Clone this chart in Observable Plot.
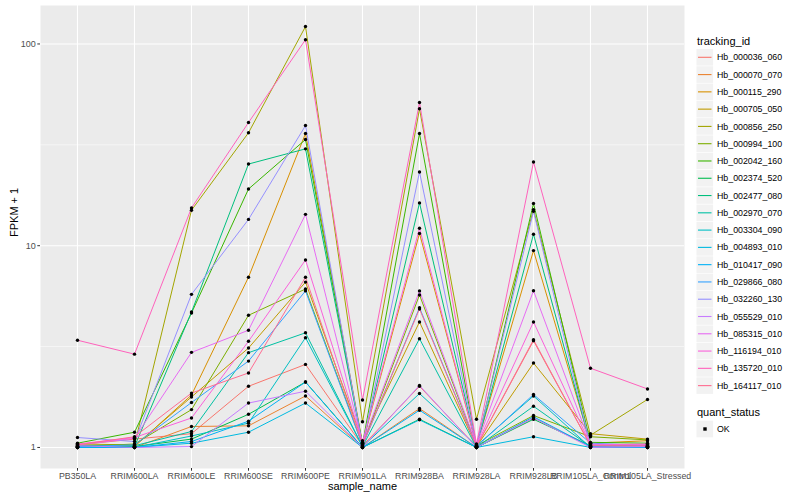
<!DOCTYPE html>
<html><head><meta charset="utf-8">
<script src="https://cdn.jsdelivr.net/npm/d3@7"></script>
<script src="https://cdn.jsdelivr.net/npm/@observablehq/plot@0.6"></script>
<style>
body{margin:0;background:#fff;font-family:"Liberation Sans",Arial,Helvetica,sans-serif;}
#wrap{position:relative;width:800px;height:500px;overflow:hidden;}
#legend{position:absolute;left:0;top:0;width:800px;height:500px;pointer-events:none;}
</style></head><body><div id="wrap"></div>
<script>
const samples = ["PB350LA","RRIM600LA","RRIM600LE","RRIM600SE","RRIM600PE","RRIM901LA","RRIM928BA","RRIM928LA","RRIM928LB","RRIM105LA_Control","RRIM105LA_Stressed"];
const trackingIds = ["Hb_000036_060","Hb_000070_070","Hb_000115_290","Hb_000705_050","Hb_000856_250","Hb_000994_100","Hb_002042_160","Hb_002374_520","Hb_002477_080","Hb_002970_070","Hb_003304_090","Hb_004893_010","Hb_010417_090","Hb_029866_080","Hb_032260_130","Hb_055529_010","Hb_085315_010","Hb_116194_010","Hb_135720_010","Hb_164117_010"];
const seriesColors = ["#F8766D","#EA8331","#D89000","#C09B00","#A3A500","#7CAE00","#39B600","#00BB4E","#00BF7D","#00C1A3","#00BFC4","#00BAE0","#00B0F6","#35A2FF","#9590FF","#C77CFF","#E76BF3","#FA62DB","#FF62BC","#FF6C91"];
// FPKM + 1, one row per tracking_id, columns in the order of `samples`
const fpkmPlusOne = [
  [1.03, 1.10, 1.17, 2.01, 2.58, 1.02, 2.01, 1.01, 3.38, 1.02, 1.03],
  [1.01, 1.00, 1.27, 1.28, 1.80, 1.00, 1.56, 1.00, 1.40, 1.01, 1.01],
  [1.00, 1.01, 1.82, 6.98, 36.0, 1.05, 11.5, 1.02, 9.46, 1.05, 1.08],
  [1.02, 1.02, 1.78, 3.11, 6.6, 1.08, 4.19, 1.01, 2.62, 1.17, 1.10],
  [1.04, 1.03, 15.0, 36.3, 122, 1.34, 47.7, 1.38, 15.1, 1.15, 1.73],
  [1.01, 1.04, 1.54, 4.52, 6.1, 1.03, 5.7, 1.02, 1.44, 1.13, 1.09],
  [1.05, 1.19, 4.64, 19.1, 33.6, 1.04, 36.0, 1.01, 16.2, 1.06, 1.05],
  [1.00, 1.01, 1.10, 1.46, 2.11, 1.00, 1.38, 1.00, 1.38, 1.02, 1.00],
  [1.02, 1.01, 4.69, 25.4, 30.2, 1.03, 16.3, 1.01, 11.4, 1.03, 1.02],
  [1.00, 1.02, 1.20, 2.95, 3.7, 1.01, 3.46, 1.00, 1.60, 1.01, 1.01],
  [1.01, 1.00, 1.14, 1.32, 3.5, 1.01, 1.85, 1.02, 1.80, 1.00, 1.00],
  [1.00, 1.00, 1.05, 1.19, 1.66, 1.00, 1.37, 1.00, 1.13, 1.00, 1.00],
  [1.00, 1.00, 1.07, 1.35, 2.11, 1.00, 1.53, 1.00, 1.42, 1.01, 1.00],
  [1.01, 1.03, 1.67, 2.68, 5.97, 1.02, 4.93, 1.01, 1.83, 1.05, 1.02],
  [1.12, 1.07, 5.74, 13.5, 39.4, 1.02, 23.2, 1.02, 14.8, 1.02, 1.01],
  [1.02, 1.00, 1.01, 1.66, 1.90, 1.00, 2.03, 1.00, 1.40, 1.00, 1.01],
  [1.03, 1.11, 2.96, 3.81, 14.3, 1.05, 5.97, 1.03, 5.98, 1.04, 1.03],
  [1.04, 1.12, 1.40, 3.36, 8.5, 1.06, 12.2, 1.02, 4.19, 1.03, 1.04],
  [3.4, 2.9, 15.4, 40.8, 105, 1.72, 51.3, 1.04, 26.0, 2.47, 1.95],
  [1.03, 1.13, 1.86, 2.34, 6.98, 1.03, 4.86, 1.01, 3.42, 1.02, 1.02]
];
const yTicks = [1, 10, 100];
const yTickLabels = ["1", "10", "100"];
const quantStatus = ["OK"];

const rows = [];
trackingIds.forEach((id, i) => samples.forEach((s, j) =>
  rows.push({tracking_id: id, sample_name: s, fpkm: fpkmPlusOne[i][j], quant_status: quantStatus[0]})));

const lo = Math.log10(d3.min(rows, d => d.fpkm));
const hi = Math.log10(d3.max(rows, d => d.fpkm));
const pad = (hi - lo) * 0.05;
const yMinor = d3.range(Math.floor(lo), Math.ceil(hi)).map(k => Math.pow(10, k + 0.5));
const font = '"Liberation Sans",Arial,Helvetica,sans-serif';

const chart = Plot.plot({
  width: 800, height: 500,
  marginLeft: 40, marginRight: 116, marginTop: 5, marginBottom: 32,
  style: {fontFamily: font, background: "white", overflow: "visible"},
  x: {type: "point", domain: samples, padding: 0.6},
  y: {type: "log", domain: [Math.pow(10, lo - pad), Math.pow(10, hi + pad)]},
  color: {domain: trackingIds, range: seriesColors},
  marks: [
    Plot.frame({fill: "#EBEBEB", stroke: "none"}),
    Plot.ruleY(yMinor, {stroke: "white", strokeWidth: 0.55}),
    Plot.ruleY(yTicks, {stroke: "white", strokeWidth: 1.1}),
    Plot.ruleX(samples, {stroke: "white", strokeWidth: 1.1}),
    Plot.line(rows, {x: "sample_name", y: "fpkm", z: "tracking_id", stroke: "tracking_id", strokeWidth: 1}),
    Plot.dot(rows, {x: "sample_name", y: "fpkm", fill: "black", stroke: "none", r: 1.7}),
    Plot.axisY(yTicks, {tickFormat: (d, i) => yTickLabels[yTicks.indexOf(d)], tickSize: 2.7, tickPadding: 2,
      fontSize: 9, stroke: "#333333", fill: "#4D4D4D", label: null}),
    Plot.axisX(samples, {tickSize: 2.7, tickPadding: 2, fontSize: 8.8, stroke: "#333333", fill: "#4D4D4D", label: null}),
    Plot.text(["sample_name"], {frameAnchor: "bottom", dy: 21, text: d => d, fontSize: 11, fill: "black"}),
    Plot.text(["FPKM + 1"], {frameAnchor: "left", dx: -26, rotate: -90, text: d => d, fontSize: 11, fill: "black"})
  ]
});
const wrap = document.getElementById("wrap");
wrap.appendChild(chart);

// legend (ggplot style, right side)
const ns = "http://www.w3.org/2000/svg";
const leg = d3.select(wrap).append("svg").attr("id", "legend").attr("width", 800).attr("height", 500)
  .style("font-family", font);
leg.append("text").attr("x", 697).attr("y", 44.5).attr("font-size", 11).text("tracking_id");
trackingIds.forEach((id, i) => {
  const cy = 57.3 + i * 17.28;
  leg.append("rect").attr("x", 696.5).attr("y", cy - 8.3).attr("width", 16.6).attr("height", 16.6).attr("fill", "#F2F2F2");
  leg.append("line").attr("x1", 698).attr("x2", 711.5).attr("y1", cy).attr("y2", cy)
    .attr("stroke", seriesColors[i]).attr("stroke-width", 1.1);
  leg.append("text").attr("x", 717).attr("y", cy + 3.1).attr("font-size", 8.8).text(id);
});
leg.append("text").attr("x", 697).attr("y", 416).attr("font-size", 11).text("quant_status");
quantStatus.forEach((q, i) => {
  const cy = 429 + i * 17.28;
  leg.append("rect").attr("x", 696.5).attr("y", cy - 8.3).attr("width", 16.6).attr("height", 16.6).attr("fill", "#F2F2F2");
  leg.append("rect").attr("x", 703.3).attr("y", cy - 1.7).attr("width", 3.4).attr("height", 3.4).attr("fill", "black");
  leg.append("text").attr("x", 717).attr("y", cy + 3.1).attr("font-size", 8.8).text(q);
});
</script></body></html>
